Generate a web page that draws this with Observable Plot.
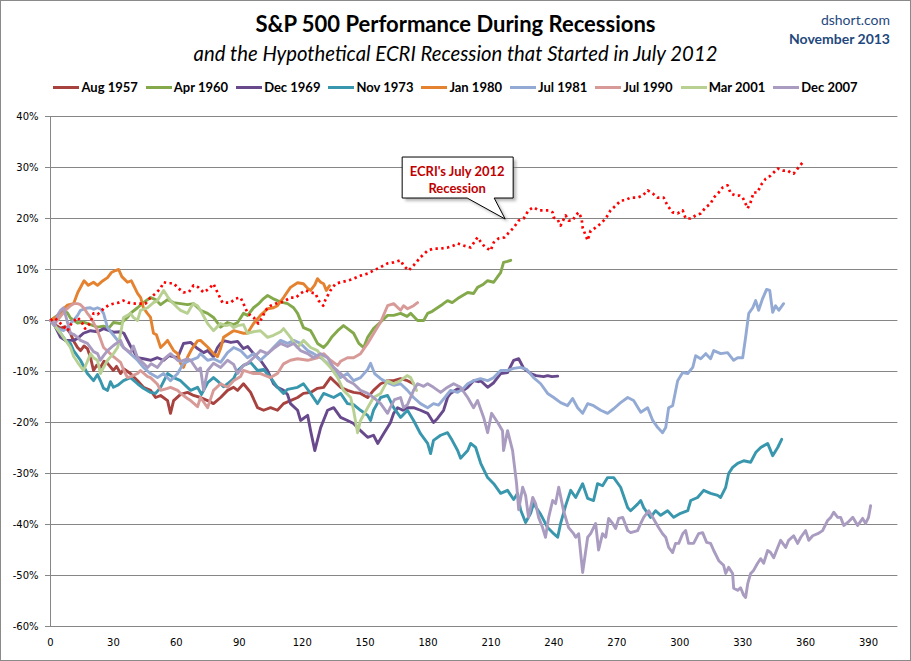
<!DOCTYPE html>
<html>
<head>
<meta charset="utf-8">
<script src="https://cdn.jsdelivr.net/npm/d3@7"></script>
<script src="https://cdn.jsdelivr.net/npm/@observablehq/plot@0.6"></script>
<style>
  html, body { margin: 0; padding: 0; background: #fff; }
  #frame { position: relative; width: 911px; height: 661px; box-sizing: border-box; border: 1px solid #8a8a8a; background: #fff; overflow: hidden; }
  #header { position: relative; width: 909px; height: 99px; font-family: Lato, "Open Sans", sans-serif; }
  .title { position: absolute; left: 0; width: 909px; text-align: center; font-weight: 700; font-size: 22px; line-height: 22px; top: 12px; color: #000; }
  .subtitle { position: absolute; left: 0; width: 909px; text-align: center; font-style: italic; font-weight: 400; font-size: 20.3px; line-height: 20px; top: 42px; color: #000; }
  .src { position: absolute; right: 20px; text-align: right; color: #1F497D; font-size: 14px; line-height: 14px; }
  #legend { position: absolute; left: 0; width: 909px; top: 79px; display: flex; justify-content: center; align-items: center; gap: 8px; font-weight: 700; font-size: 13px; line-height: 14px; }
  .item { display: flex; align-items: center; }
  .sw { display: inline-block; width: 26px; height: 3px; margin-right: 2px; }
</style>
</head>
<body>
<div id="frame">
  <div id="header">
    <div class="title">S&amp;P 500 Performance During Recessions</div>
    <div class="subtitle">and the Hypothetical ECRI Recession that Started in July 2012</div>
    <div class="src" style="top:12px;">dshort.com</div>
    <div class="src" style="top:31px;font-weight:700;">November 2013</div>
    <div id="legend"></div>
  </div>
  <div id="chart"></div>
</div>
<script>
// ---------- data: [trading day, % change] ----------
const xTicks = [0, 30, 60, 90, 120, 150, 180, 210, 240, 270, 300, 330, 360, 390];
const yTicks = [-60, -50, -40, -30, -20, -10, 0, 10, 20, 30, 40];

const seriesNames = ["Aug 1957", "Apr 1960", "Dec 1969", "Nov 1973", "Jan 1980", "Jul 1981", "Jul 1990", "Mar 2001", "Dec 2007"];
const seriesColors = ["#A8423F", "#84A94B", "#67498C", "#3896AD", "#E4822F", "#93AAD4", "#D89A97", "#B8D193", "#A99CC0"];

const aug1957 = [[0,0],[2,-0.8],[4.8,-1.5],[7,-1.2],[9.5,-2.5],[11,-4],[12.9,-5.3],[14.3,-5.9],[16,-5],[17.6,-5.5],[19.1,-7.3],[20.5,-9.8],[22,-8.8],[23.8,-9.2],[25.5,-8],[27.2,-8.4],[30,-9.8],[31.5,-9],[33.4,-10.4],[35,-9.5],[38.1,-10.4],[41.5,-11.8],[44.3,-13.1],[47.7,-13.7],[50.1,-15.1],[52.5,-14.7],[55.8,-15.7],[57.2,-18.2],[58.7,-15.7],[62,-14.5],[65.3,-14.1],[68.2,-14.7],[71.5,-15.1],[74.9,-15.7],[77.7,-16.3],[81.1,-15.1],[84.4,-13.7],[87.3,-13.1],[89.2,-13.7],[92,-12.4],[95.4,-14.1],[98.7,-17.1],[101.6,-17.6],[104.9,-17.1],[108.2,-17.6],[111.1,-16.3],[114.4,-15.7],[117.8,-15.1],[120.6,-14.3],[124,-14.1],[127.3,-13.3],[130.2,-13.1],[133.5,-11.2],[135,-11.8],[138.3,-13.1],[141.6,-13.7],[144.5,-14.1],[147.8,-14.3],[151.2,-15.1],[154,-13.7],[157.4,-12.4],[160.7,-11.8],[163.6,-11.8],[166.9,-11.4],[170.2,-11.8],[173.1,-12.4]];

const apr1960 = [[0,0],[3.3,1],[6.2,2],[8.1,1.5],[9.5,0.5],[12.9,-0.5],[15.7,-0.3],[19.1,-0.8],[22.4,-1.3],[25.3,-1.1],[28,-1.4],[30,-0.4],[33.4,-0.6],[36.7,0.6],[38.1,1.4],[41.5,2.5],[44.3,3.5],[47.7,4.5],[50.1,4.1],[52.5,3.1],[55.8,4.1],[58.7,3.5],[62,3.3],[65.3,3.1],[68.2,3.3],[71.5,2],[74.9,1.4],[77.7,0.6],[81.1,-1.3],[84.4,-0.4],[87.3,-0.8],[89.2,-0.4],[92,1.4],[94,1],[96.8,2.5],[99,3.2],[101.6,4.3],[103.5,4.9],[106,4.3],[108.2,3.9],[111,3.5],[113,3.3],[115.9,2.5],[117.8,1.4],[120.6,-1.4],[124,-2],[125.4,-3],[127.3,-4.5],[130.2,-5.3],[132,-4.5],[134,-3.3],[136.9,-2],[139.7,-1],[141.6,-1.6],[144.5,-2.5],[147,-4.5],[149.3,-5.3],[151.2,-3.3],[154,-1.6],[157.4,-0.3],[160.7,1],[163.6,1],[166.9,1.4],[170,0.8],[171.7,1.4],[175,0],[177.9,0],[179.8,1.4],[182,1.8],[184.5,2.5],[187,3.2],[189.3,3.9],[191.5,3.5],[194.1,4.3],[196.9,5],[198.9,5.5],[201.7,5.3],[203.6,6.5],[206,7],[208.4,7.8],[211.3,7.5],[213.2,8.6],[214.6,9.4],[216,11.4],[217.9,11.6],[219.4,11.8]];

const dec1969 = [[0,0],[2,-1],[4.8,-3.3],[7.2,-3.9],[9.5,-3.9],[11,-3.9],[12.9,-3.5],[15.7,-2.5],[19.1,-2],[22.4,-2.2],[25.3,-1.6],[28,-2],[30,-2.3],[33.4,-2.2],[35,-2.5],[38.1,-5],[41.5,-7.3],[44.3,-7.5],[47.7,-7.8],[51,-7.3],[53.9,-7.8],[56.5,-6.9],[60.6,-7.3],[63.4,-4.5],[66.8,-4.3],[70.1,-5.5],[73,-6.3],[74.9,-5.9],[77.7,-7.1],[79.6,-5.3],[81.1,-4.5],[83,-4],[86,-4.3],[89.2,-4.1],[92,-5.5],[94,-5.1],[96.8,-6.5],[100.1,-7.8],[103.5,-9.8],[106.3,-12.4],[108.2,-13.1],[111.1,-13.7],[113,-14.5],[114.4,-16.3],[117.8,-17.6],[119.2,-19.6],[122.6,-18.6],[124,-21.6],[126,-25.5],[128.8,-21],[132.1,-17.6],[135,-17.1],[138.3,-19],[141.6,-19.6],[144.5,-20.2],[147.8,-21.6],[151.2,-22.9],[154,-22.5],[156,-24.1],[158.8,-22.2],[162.1,-20],[163.6,-18.2],[165.5,-17.1],[168,-17.6],[170.2,-17.1],[173.1,-17.1],[176.4,-17.6],[179.8,-18.2],[182.6,-20],[184.5,-19.2],[187.4,-17.6],[189.3,-15.1],[190.7,-14.3],[194.1,-13.4],[196.9,-13.7],[198.9,-13.1],[201.7,-11.8],[204,-12],[205.1,-11.8],[208.4,-13.1],[211.3,-12.2],[214.6,-10.4],[217.9,-10.2],[220.8,-7.8],[223.2,-7.5],[225.6,-9.4],[228.9,-10.4],[231.5,-10.8],[235.1,-11],[237,-10.8],[239,-11],[241.8,-10.9]];

const nov1973 = [[0,0],[2,-1],[4.8,-2.5],[7.2,-3.9],[9.5,-4.5],[11,-5.9],[14.3,-7.8],[17.6,-10.4],[20.5,-11.8],[22.4,-10.6],[24,-12],[25.3,-13.3],[27.2,-13.7],[28.6,-12],[30,-13.1],[32,-12.7],[34.8,-11.8],[38.1,-11.2],[41.5,-12.4],[44.3,-13.3],[47.7,-14.1],[50.1,-14.3],[52.5,-13.1],[55.8,-10.4],[58.7,-11.2],[62,-11.8],[66.8,-13.7],[70.1,-13.1],[72,-14.5],[74.9,-12.2],[77.7,-11.2],[80,-12],[82.5,-13],[84.4,-12.4],[87.3,-11.4],[89.2,-9.8],[92,-8.8],[95.4,-8.2],[98.7,-9.8],[101.6,-9.6],[104.9,-11.2],[108.2,-13.1],[111.1,-14.3],[113,-13.5],[117.8,-13.1],[120.6,-12.4],[124,-14.3],[127.3,-16.3],[130.2,-14.3],[135,-15.1],[138.3,-14.3],[141.6,-16.3],[144.5,-16.5],[147.8,-17.6],[151.2,-18.6],[152.6,-19.6],[154,-17.6],[157.4,-15.1],[160.7,-14.7],[163.6,-17.1],[166.9,-19],[170.2,-17.6],[173.1,-19.6],[176.4,-22.2],[179.8,-24.1],[181.2,-26.1],[182.6,-23.5],[186,-22.5],[189.3,-22],[191.5,-23.5],[194.1,-25.5],[195.5,-27],[198.9,-25.5],[200.3,-24.1],[202.7,-24.9],[205.1,-28],[208.4,-30.8],[211.3,-32],[214.6,-33.9],[217.9,-33.3],[220.8,-35.1],[222.7,-33.9],[224.1,-37.1],[226.5,-39.6],[228.9,-37.8],[230.3,-35.9],[233.7,-38],[237,-40.6],[239.9,-41.8],[241.8,-42.5],[243.2,-39.8],[245.6,-36.3],[248,-33.3],[250.4,-34.7],[253.7,-32],[256.1,-34.9],[258.9,-35.3],[260.8,-32],[263.2,-32.4],[265.6,-30.8],[268.5,-30.8],[271.8,-32.7],[275.2,-36.7],[276.6,-37.3],[279.9,-36],[281.4,-35.3],[282.8,-36.7],[286.1,-38.6],[288.5,-37.3],[290.9,-38.2],[294.2,-37.3],[297.1,-38.6],[300.4,-37.8],[303.8,-37.3],[305.2,-35.3],[308.5,-34.7],[311.4,-33.3],[314.7,-33.9],[318.1,-34.3],[319.5,-34.7],[321.9,-32.7],[323.3,-30],[325.2,-28.8],[327.6,-28],[330.5,-27.5],[333.8,-27.8],[336.2,-25.9],[338.6,-24.9],[341.9,-24.1],[344.3,-26.5],[346.7,-24.9],[348.6,-23.3]];

const jan1980 = [[0,0],[3,0.8],[5.5,2],[8,3],[11,3.3],[13,5.5],[16,7.8],[18,6.9],[20.5,7.5],[22.4,6.9],[25,7.8],[27.2,8.4],[29,9.4],[31,9.8],[32.5,10],[34,8.6],[36.7,7.5],[38.5,7.8],[41.5,5.3],[43,4.5],[44.3,2.5],[46,1.5],[47.7,0.6],[49.1,-2.5],[50.5,-2.8],[52.5,-5.3],[54.5,-4.5],[55.8,-3.9],[58.7,-5.9],[60.6,-6.5],[62,-8.4],[63.4,-9.2],[65.3,-7.2],[67.5,-5.5],[70.1,-4],[71.5,-3.9],[74.9,-5.2],[77.7,-6.5],[79.6,-7.1],[81.1,-5.5],[82.5,-3.3],[85.8,-2.4],[87.3,-2],[89.2,-2.2],[92,-2.5],[93.9,-2.5],[96.8,-0.6],[100.1,1],[103.5,2.3],[106.3,2.5],[108.2,2.9],[111.1,4.5],[114.4,6.5],[117.8,7.4],[120.6,7.2],[122.6,6.3],[124,5.9],[126,7],[127.3,8.2],[128.8,7.5],[130.2,7.2],[131.5,5.9],[133,6.8]];

const jul1981 = [[0,0],[1.4,-0.6],[3,-1.5],[4.8,-1.8],[6.2,-2],[8.1,-1.4],[9.5,-0.6],[11,0],[12.9,1],[14.3,2],[17,2.4],[19,2.5],[20.5,2.2],[22.4,2.5],[24,2.2],[25.3,1.4],[27.2,-1.4],[29.3,-2.5],[32,-3.9],[34.8,-5.3],[38.1,-6.5],[41.5,-7.8],[44.3,-9.2],[47.7,-10.4],[51,-11.2],[53.9,-10.4],[57.2,-11.8],[60.6,-10.4],[63.4,-8.4],[66.8,-7.8],[70.1,-7.3],[71.5,-6.5],[74.9,-7.8],[77.7,-7.5],[81.1,-8.2],[84.4,-6.3],[87.3,-5.3],[90.6,-5.9],[93.9,-7.3],[96.8,-6.5],[100.1,-7.8],[103.5,-6.5],[106.3,-5.3],[109.7,-3.9],[113,-4.5],[115.9,-3.9],[119.2,-4.5],[122.6,-5.9],[125.4,-6.5],[128.8,-7.3],[132.1,-8.4],[135,-9.8],[138.3,-11.2],[141.6,-10.4],[144.5,-11.8],[147.8,-11.2],[151.2,-9.6],[152.6,-8.4],[154.5,-10.4],[157.4,-11.4],[160.7,-12.2],[163.6,-12.7],[166.9,-12.4],[170.2,-13.7],[173.1,-15.1],[176.4,-16.3],[179.8,-17.1],[182.6,-16.3],[185,-16.6],[188,-15.1],[190.7,-13.7],[194.1,-14.1],[196.9,-13.3],[198.9,-12.4],[201.7,-11.8],[205,-11.4],[208.4,-11.8],[211.3,-11.2],[214.6,-9.8],[217.9,-9.8],[220.8,-9.4],[224.1,-9.2],[227,-9.6],[230.3,-11.2],[233.7,-12.4],[237,-14.3],[239.9,-15.1],[243.2,-16.1],[246.5,-16.7],[248.9,-15.3],[251.3,-17.1],[253.7,-18.2],[256.1,-16.3],[258.9,-16.7],[262.3,-17.6],[265.6,-18.2],[268.5,-17.3],[271.8,-16.1],[275.2,-15.1],[278,-15.7],[281.4,-18],[284.7,-17.1],[287.1,-19.6],[289.5,-21],[291.8,-22],[293.3,-21],[294.7,-17.1],[296.6,-16.7],[299,-11.8],[301.4,-10.2],[303.8,-10.4],[306.2,-9.2],[307.6,-6.9],[310,-7.5],[312.4,-6.5],[314.7,-7.5],[316.2,-5.9],[319.5,-6.5],[322.8,-6.3],[325.7,-7.8],[327.6,-7.3],[330,-7.3],[331.4,-3.3],[332.9,1.4],[334.8,2.5],[336.2,3.9],[337.6,2],[339.5,4.3],[341.4,6.1],[342.9,5.9],[344.3,1.6],[345.7,2.9],[347.2,2],[349.5,3.3]];

const jul1990 = [[0,0],[2,-0.6],[4.8,0.8],[7.2,2],[9.5,2.9],[11,3.3],[12.9,3.3],[14.3,3.1],[16,2.4],[17.6,1.4],[19.1,0.6],[20.5,-0.4],[22.4,-2],[25.3,-5.3],[27.2,-6],[30,-7.1],[33.4,-8.2],[35,-9.8],[36.7,-11.2],[38.1,-11],[41.5,-10.4],[42.9,-9.8],[46.3,-11],[47.7,-11.2],[51,-12.5],[52.5,-13.7],[55.8,-13.3],[57.2,-13.1],[60.6,-13.7],[62,-14.3],[65.3,-15.3],[66.8,-15.7],[70.1,-16.9],[71.5,-15.1],[74.9,-17.1],[77.7,-13.7],[81.1,-12.4],[84.4,-13.1],[87.3,-11.8],[90.6,-11],[92,-9.8],[96.8,-10.4],[100.1,-10.4],[104.9,-11.2],[108.2,-10.4],[111.1,-8.5],[114.4,-7.8],[117.8,-7.5],[122.6,-7.8],[127.3,-7.3],[130.2,-6.5],[133.5,-7.8],[136.9,-8.8],[138.3,-8],[141.6,-7.3],[144.5,-7.3],[147.8,-6.5],[151.2,-4.5],[154,-2.6],[157.4,-0.3],[160.7,2.9],[163.6,3.3],[166.9,2],[168.3,2.9],[170.2,2.3],[173.1,2.9],[175,3.5]];

const mar2001 = [[0,0],[2,-1],[4.8,-2.5],[7.2,-3.9],[9.5,-5.3],[11,-7],[12.9,-8.2],[14.3,-9],[15.7,-9.8],[17.6,-8],[19.1,-6.5],[20.5,-7.3],[22.4,-7.8],[23.8,-10.4],[25.3,-9.2],[27.2,-7.8],[30,-6.5],[32,-5.3],[33.4,-2.6],[34.8,0.6],[36.7,1],[38.1,1.4],[39.5,0.6],[41.5,0],[42.9,2],[46.3,2.5],[49.1,3.5],[51,3.9],[53.9,5.9],[55.8,4.7],[57.2,3.9],[58.7,3.3],[60.6,2.5],[62,2],[65.3,1.4],[66.8,2.5],[68.2,3.3],[70.1,2.9],[71.5,2],[74.9,-0.6],[77.7,-2],[79.6,-1.2],[81.1,-0.6],[83.5,-1],[85.8,-0.8],[87.3,-1.4],[89.2,-1],[92,-0.8],[93.9,-2.5],[96.8,-2.2],[100.1,-2],[103.5,-3.3],[106.3,-2.9],[109.7,-2.2],[111.1,-1.6],[114.4,-3.3],[117.8,-5.3],[120.6,-3.9],[124,-5.3],[127.3,-5.9],[130.2,-7.8],[133.5,-9.2],[136.9,-11.2],[139.7,-13.7],[143.1,-15.1],[144.5,-17.6],[146.4,-22],[147.8,-19.6],[151.2,-17.1],[154,-15.1],[157.4,-14.3],[160.7,-11.8],[163.6,-12.4],[166.9,-11.8],[170,-10.8],[171.7,-11.2],[173.1,-12.4],[174.5,-13.7]];

const dec2007 = [[0,0],[2,-1],[3.3,1],[4.8,2],[6.2,2.5],[7.2,1],[9.5,-2.5],[11,-2.7],[12.9,-3.3],[14.3,-3.9],[17.6,-4.5],[19.1,-5.3],[20.5,-6.1],[22.4,-6.5],[23.8,-7.8],[25.3,-6.9],[27.2,-5.9],[30,-4.9],[33.4,-3.9],[34.8,-5.3],[38.1,-6.3],[39.5,-5],[41.5,-7.3],[44.3,-8.4],[46.3,-9.2],[48,-8.5],[51,-9.2],[53.9,-7.6],[57.2,-6.5],[60.6,-7.8],[62,-8],[65.3,-7.5],[66.8,-7.8],[70.1,-9.8],[71.5,-9.3],[73,-13.7],[74.9,-9.8],[77.7,-8.4],[81.1,-9.2],[84.4,-7.8],[87.3,-8.6],[89.2,-10.4],[92,-8.8],[93.9,-8.4],[96.8,-7.3],[100.1,-5.9],[103.5,-6.5],[106.3,-5.5],[109.7,-4.5],[113,-5.1],[115.9,-4.5],[119.2,-5.9],[122.6,-6.5],[125.4,-7.3],[128.8,-6.5],[132.1,-7.3],[135,-9.2],[138.3,-10.4],[141.6,-11.8],[144.5,-12.4],[147.8,-13.7],[151.2,-14.3],[154,-15.1],[157.4,-16.3],[160.7,-18.2],[162.1,-17],[164,-15.5],[166.9,-15.1],[168.3,-17.1],[170.2,-16.5],[173.1,-13.7],[175,-12.4],[177.9,-12.9],[179.8,-12.4],[182.6,-13.1],[186,-14.1],[188.5,-13.3],[192.2,-12.4],[195.5,-13.1],[198.9,-15.1],[201.7,-17.1],[203.6,-15.7],[206.5,-19],[208.4,-22],[210.3,-18.2],[213.2,-20],[215.5,-21.6],[216,-25.5],[217.9,-21.6],[220.3,-25.5],[222.2,-32],[223.2,-37.1],[225.1,-32.7],[226.5,-34.3],[227.9,-38.6],[229.9,-34.7],[231.3,-35.9],[232.7,-38.6],[234.6,-40.6],[236,-42.5],[237.5,-38.6],[239.4,-35.3],[240.8,-35.9],[242.3,-32.7],[244.6,-37.3],[247,-40.6],[249.4,-41.8],[250.4,-42.5],[251.8,-41.8],[253.7,-49.4],[256.1,-42.5],[257.5,-41.8],[259.9,-39.8],[261.3,-45],[263.2,-41.8],[264.7,-42.5],[266.1,-38.8],[268,-39.8],[269.4,-40.8],[270.9,-38.8],[272.8,-38.6],[275.2,-41.2],[276.6,-41.6],[279.9,-41.2],[281.4,-39.8],[282.8,-38.6],[285.2,-37.3],[287.1,-38.6],[288.5,-39.6],[289.9,-40.6],[291.8,-41.8],[293.3,-42.5],[294.7,-44.5],[296.6,-45.5],[298,-43.7],[299.5,-43.7],[301.4,-41.8],[302.8,-41.2],[304.2,-43.7],[306.6,-43.7],[309,-41.8],[310.9,-41.6],[312.8,-43.5],[314.7,-43.7],[316.2,-45.1],[318.6,-47.1],[320.9,-48],[321.9,-49.6],[323.3,-48.4],[325.2,-49.6],[325.7,-52.5],[327.6,-52.9],[329,-52.4],[330.5,-53.9],[331.4,-54.3],[332.4,-51.6],[333.8,-49.6],[335.2,-49],[337.1,-47.6],[338.6,-46.7],[340,-47.6],[341.9,-45.1],[343.3,-45.5],[344.8,-46.5],[346.7,-44.5],[348.1,-43.1],[350.5,-44.5],[351.9,-43.1],[354.3,-42.2],[356.2,-43.7],[357.7,-42.5],[360,-41.2],[361.5,-43.1],[363.4,-42.2],[365.8,-41.8],[368.1,-41.2],[370.5,-39.2],[372,-38.6],[373.4,-37.6],[375.3,-38.6],[376.7,-38.6],[378.2,-40.2],[380.1,-39.6],[382.5,-38.6],[384.8,-40.2],[387.2,-38.8],[388.6,-39.8],[390,-38.6],[391,-36.3]];

const ecri2012 = [[0,0],[2,0.5],[4.8,-0.6],[8.1,-2],[10,-0.6],[12.9,0.6],[15,-0.4],[16.5,-1.6],[19.1,-0.4],[20.5,1.4],[22.5,1.2],[25.3,2.3],[27.7,3],[30,3.3],[32.5,3.5],[34.8,3.9],[37,3.5],[40.5,3.3],[43,3.3],[45.3,3.3],[47.7,4.5],[50.1,5.3],[52.5,6.3],[53.9,7.5],[56.5,7.3],[58.7,7.3],[61,6.3],[63.4,5.5],[66,5.6],[68.2,6.9],[70.5,6.5],[73,5.5],[75.5,6.2],[77.7,7.2],[79.6,5.5],[82,3.5],[84,3.5],[85.8,3.5],[88.2,4.3],[90.6,4.5],[92,3.3],[94,1.4],[96.8,0.6],[99.1,-0.6],[101,0.6],[102.5,2],[104.9,2.9],[107.3,3.3],[109.7,3.5],[112,3.9],[114.4,4.5],[117,4.5],[119.2,5.3],[121.6,5.9],[124,5.5],[126.3,5.3],[127.8,3.9],[130,2.9],[131,4],[133.5,5.9],[135.9,7.2],[138.3,7.5],[141.6,7.8],[144.5,8.2],[147.8,8.8],[151.2,9.2],[154,9.8],[157,10.4],[160.7,11.2],[163.6,11.4],[166.9,11.8],[168.3,10.8],[170.7,9.8],[173.1,10.8],[176.4,12.4],[179.8,13.7],[182.6,14.1],[186,14.1],[189.3,14.3],[192.2,14.7],[194.1,15.1],[196.9,14.7],[200.3,14.3],[203.6,16.3],[205,15.5],[206.5,14.7],[208.4,14.1],[209.8,13.7],[211.3,15.3],[213.7,16.1],[216.5,16.3],[218,17],[220.8,18.2],[223.2,19.6],[225.6,20],[227.9,21.6],[230.3,22.2],[232.7,21.6],[235.1,21.6],[237.5,21.6],[239.4,21.2],[239.9,20.2],[241.8,19.8],[243.2,18.6],[244.6,19.8],[245.6,20.6],[247,19.6],[248.9,19.6],[250.4,20.6],[251.8,21.2],[253.2,20],[253.7,18.2],[255.1,16.7],[256.1,15.7],[257.5,17.6],[259.9,18.2],[262.3,19],[264.7,20],[267,21.6],[269.4,22.5],[271.8,23.5],[274,23.6],[276.6,24.1],[279.9,24.1],[282.3,24.5],[284.7,25.5],[287.1,24.9],[289.5,24.1],[292.3,24.1],[294.2,22.5],[296.6,21.2],[299,21],[301.4,21.6],[302.8,20],[305.2,20],[307.6,20.6],[310,21],[312.4,22.2],[314.7,22.9],[316.2,24.1],[318.6,25.1],[320.5,26.1],[322.8,26.5],[324.3,24.9],[326.7,24.5],[328.5,24.5],[330,24.1],[332.4,22],[333.8,23.2],[335.2,25.1],[337.1,25.1],[338.6,26.5],[341,27.8],[343.3,28.4],[346.7,29.8],[349.1,29.4],[351.5,29.4],[352.8,29],[354.3,28.8],[356.2,29.8],[358.6,31]];

const calloutLines = ["ECRI's July 2012", "Recession"];
const calloutDay = 217;
const calloutValue = 19.8;

const seriesData = [aug1957, apr1960, dec1969, nov1973, jan1980, jul1981, jul1990, mar2001, dec2007];

// ---------- legend ----------
const legend = document.getElementById("legend");
seriesNames.forEach((name, i) => {
  const it = document.createElement("div");
  it.className = "item";
  const sw = document.createElement("span");
  sw.className = "sw";
  sw.style.background = seriesColors[i];
  const tx = document.createElement("span");
  tx.textContent = name;
  it.appendChild(sw); it.appendChild(tx);
  legend.appendChild(it);
});

// ---------- chart ----------
const lineMarks = seriesData.map((data, i) =>
  Plot.line(data, {x: d => d[0], y: d => d[1], stroke: seriesColors[i], strokeWidth: 2.9, strokeLinejoin: "round", strokeLinecap: "round"})
);

const chart = Plot.plot({
  width: 909,
  height: 560,
  marginLeft: 49,
  marginRight: 12.6,
  marginTop: 16,
  marginBottom: 34,
  style: {fontFamily: "'DejaVu Sans', sans-serif", fontSize: "10px", color: "#000", background: "transparent", overflow: "visible"},
  x: {type: "linear", domain: [0, 404], label: null},
  y: {type: "linear", domain: [-60, 40], label: null},
  marks: [
    Plot.gridY(yTicks, {stroke: "#868686", strokeOpacity: 1, strokeWidth: 1}),
    Plot.ruleX([0], {stroke: "#868686", strokeWidth: 1}),
    Plot.axisY(yTicks, {tickSize: 5, tickPadding: 7, stroke: "#868686", tickFormat: d => d + "%", label: null}),
    Plot.axisX(xTicks, {tickSize: 0, tickPadding: 12, tickFormat: d => String(d), label: null}),
    ...lineMarks,
    Plot.line(ecri2012, {x: d => d[0], y: d => d[1], stroke: "#FF0000", strokeWidth: 2.7, strokeDasharray: "2.4,3.4", strokeLinecap: "butt"})
  ]
});
document.getElementById("chart").appendChild(chart);

// ---------- callout (anchored to data coordinates via the plot's scales) ----------
(function () {
  const sx = chart.scale("x"), sy = chart.scale("y");
  const fx = sx.apply ? (v => sx.apply(v)) : d3.scaleLinear(sx.domain, sx.range);
  const fy = sy.apply ? (v => sy.apply(v)) : d3.scaleLinear(sy.domain, sy.range);
  const tx = fx(calloutDay), ty = fy(calloutValue);
  const l = tx - 103, r = tx + 8, t = ty - 62, b = ty - 21;
  const svg = d3.select(chart);
  const defs = svg.append("defs");
  const f = defs.append("filter").attr("id", "shadowblur").attr("x", "-20%").attr("y", "-20%").attr("width", "140%").attr("height", "140%");
  f.append("feGaussianBlur").attr("stdDeviation", 1.6);
  const g = svg.append("g");
  const p = `M${l},${t}H${r}V${b}H${tx - 11}L${tx},${ty}L${tx - 38},${b}H${l}Z`;
  g.append("path").attr("d", p).attr("transform", "translate(3,3)").attr("fill", "#7f7f7f").attr("fill-opacity", 0.55).attr("filter", "url(#shadowblur)");
  g.append("path").attr("d", p).attr("fill", "#fff").attr("stroke", "#000").attr("stroke-width", 1);
  calloutLines.forEach((s, i) => {
    g.append("text").attr("x", tx - 48).attr("y", ty - 43.3 + i * 17).attr("text-anchor", "middle")
      .attr("font-family", "Lato, sans-serif").attr("font-weight", 700).attr("font-size", 13).attr("fill", "#C00000").text(s);
  });
})();
</script>
</body>
</html>
